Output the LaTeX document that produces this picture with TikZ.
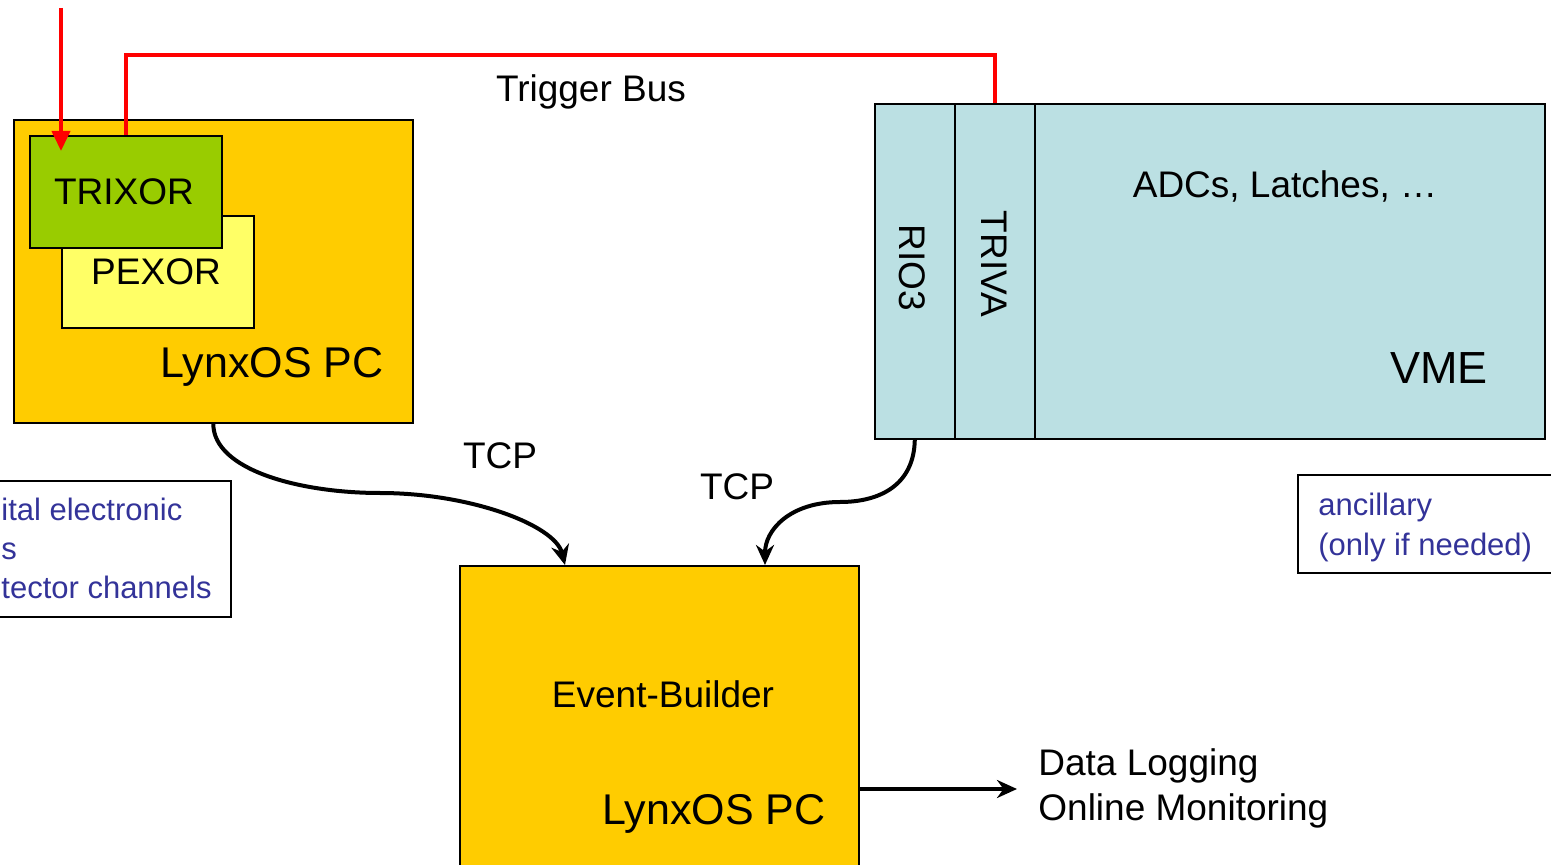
\documentclass[tikz,border=0pt]{standalone}
\usepackage{fontspec}
\setmainfont{Liberation Sans}
\usetikzlibrary{calc,arrows.meta}
\definecolor{pcorange}{HTML}{FFCC00}
\definecolor{trixgreen}{HTML}{99CC00}
\definecolor{pexyellow}{HTML}{FFFF66}
\definecolor{vmeblue}{HTML}{BBE0E3}
\definecolor{notetext}{HTML}{333399}
\tikzstyle{every node}=[font=\fontsize{18.5}{22.5}\selectfont,inner sep=0pt]
\tikzstyle{box}=[draw=black,line width=0.8pt,anchor=north west,inner sep=0pt]
\tikzstyle{lbl}=[anchor=base]
\tikzstyle{big}=[font=\fontsize{21.5}{25}\selectfont]
\tikzstyle{note}=[font=\fontsize{15.5}{19.5}\selectfont,text=notetext,align=left,anchor=base west]
\tikzstyle{tcp}=[line width=2pt,-{Stealth[length=10pt,width=9pt]}]
\tikzstyle{trig}=[red,line width=2pt]

\begin{document}
\begin{tikzpicture}[x=0.5pt,y=-0.5pt]
    \useasboundingbox (0,0) rectangle (1551,865);
    \clip (0,0) rectangle (1551,865);

    % left PC with PEXOR and TRIXOR cards
    \node[box,fill=pcorange,minimum width=199.5pt,minimum height=151.5pt] (pcA) at (13,119) {};
    \node[box,fill=pexyellow,minimum width=96pt,minimum height=56pt] (pexor) at (61,215) {};
    \node[box,fill=trixgreen,minimum width=96pt,minimum height=56pt] (trixor) at (29,135) {};
    \node[lbl] (trixorlbl) at (124,205) {TRIXOR};
    \node[lbl] (pexorlbl) at (156,285) {PEXOR};
    \node[lbl,big] (pcAlbl) at (272,378) {LynxOS PC};

    % VME crate with RIO3 and TRIVA
    \node[box,fill=vmeblue,minimum width=335pt,minimum height=167.5pt] (vme) at (874,103) {};
    \node[box,minimum width=40pt,minimum height=167.5pt] (rio3) at (874,103) {};
    \node[box,minimum width=40pt,minimum height=167.5pt] (triva) at (954,103) {};
    \node[rotate=-90] (rio3lbl) at (912,268) {RIO3};
    \node[rotate=-90] (trivalbl) at (994,264) {TRIVA};
    \node[lbl] (adclbl) at (1285,198) {ADCs, Latches, …};
    \node[lbl,font=\fontsize{22.5}{27}\selectfont] (vmelbl) at (1439,384) {VME};

    % event builder PC
    \node[box,fill=pcorange,minimum width=199.5pt,minimum height=160pt] (eb) at (459,565) {};
    \node[lbl] (eblbl) at (663,707) {Event-Builder};
    \node[lbl,big] (pcBlbl) at (714,824) {LynxOS PC};
    \node[anchor=base west,align=left] (datalog) at (1038,820) {Data Logging\\Online Monitoring};

    % side notes
    \node[box,minimum width=140pt,minimum height=49pt] (ancbox) at (1297,474) {};
    \node[note,font=\fontsize{15.5}{20}\selectfont] (anclbl) at (1318,555) {ancillary\\(only if needed)};
    \node[box,minimum width=120pt,minimum height=68pt] (digbox) at (-10,480) {};
    \node[note] (diglbl) at (1,598) {ital electronic\\s\\tector channels};

    \node[lbl] (buslbl) at (591,102) {Trigger Bus};
    \node[lbl] (tcpA) at (500,468) {TCP};
    \node[lbl] (tcpB) at (737,500) {TCP};

    \coordinate (trigin) at (61,8);
    \coordinate (trigtip) at (61,151);
    \coordinate (ebinA) at ($(eb.north west)+(106,0)$);
    \coordinate (ebinB) at ($(eb.north west)+(306,0)$);
    \coordinate (logout) at ($(eb.north east)+(0,224)$);

    % trigger bus
    \draw[trig,-{Triangle[length=10pt,width=9pt]}] (trigin) -- (trigtip);
    \draw[trig] (trixor.north) -- ++(0,-80) -| (triva.north);

    % TCP links into the event builder
    \draw[tcp] (pcA.south) .. controls (213,470) and (300,493) .. (380,493)
        .. controls (470,493) and (555,525) .. (ebinA);
    \draw[tcp] (rio3.south) .. controls (914,485) and (880,502) .. (840,502)
        .. controls (790,502) and (765,530) .. (ebinB);

    % output
    \draw[tcp,shorten >=10.5pt] (logout) -- (logout -| datalog.west);
\end{tikzpicture}
\end{document}
